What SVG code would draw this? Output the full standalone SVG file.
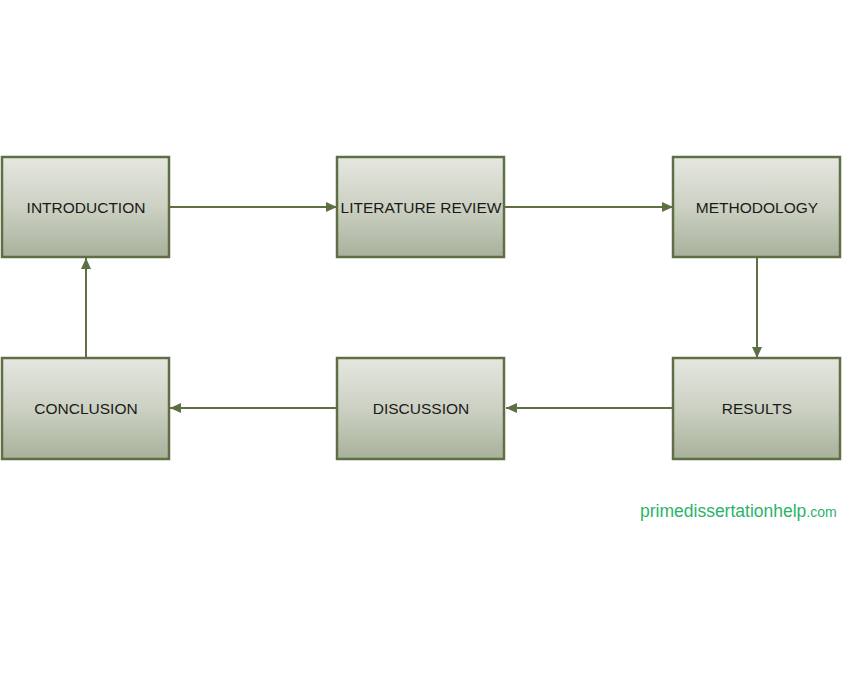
<svg xmlns="http://www.w3.org/2000/svg" width="845" height="684" viewBox="0 0 845 684">
<style>
.box{fill:url(#g);stroke:#5f6f45;stroke-width:2.5}
.lbl{font-family:"Liberation Sans",Arial,sans-serif;font-size:15.5px;fill:#1a1a1a;text-anchor:middle;dominant-baseline:central}
.con{stroke:#5f6f45;stroke-width:2;fill:none;marker-end:url(#ah)}
.wm{font-family:"Liberation Sans",Arial,sans-serif;fill:#2bb36a}
</style>
<defs>
<linearGradient id="g" x1="0" y1="0" x2="0" y2="1">
<stop offset="0" stop-color="#e5e7e1"/>
<stop offset="0.5" stop-color="#ccd1c3"/>
<stop offset="1" stop-color="#a8b19b"/>
</linearGradient>
<marker id="ah" markerWidth="12" markerHeight="10" refX="11" refY="5" orient="auto" markerUnits="userSpaceOnUse">
<path d="M0,0 L11,5 L0,10 Z" fill="#5f6f45"/>
</marker>
</defs>
<rect width="845" height="684" fill="#ffffff"/>
<g id="connectors">
<line class="con" x1="170" y1="207" x2="337" y2="207"/>
<line class="con" x1="505" y1="207" x2="673" y2="207"/>
<line class="con" x1="757" y1="258" x2="757" y2="358"/>
<line class="con" x1="672" y1="408" x2="506" y2="408"/>
<line class="con" x1="336" y1="408" x2="170" y2="408"/>
<line class="con" x1="86" y1="358" x2="86" y2="258"/>
</g>
<g id="introduction"><rect class="box" x="2" y="157" width="167" height="100"/><text class="lbl" x="86" y="207">INTRODUCTION</text></g>
<g id="literature-review"><rect class="box" x="337" y="157" width="167" height="100"/><text class="lbl" x="421" y="207">LITERATURE REVIEW</text></g>
<g id="methodology"><rect class="box" x="673" y="157" width="167" height="100"/><text class="lbl" x="757" y="207">METHODOLOGY</text></g>
<g id="conclusion"><rect class="box" x="2" y="358" width="167" height="101"/><text class="lbl" x="86" y="408">CONCLUSION</text></g>
<g id="discussion"><rect class="box" x="337" y="358" width="167" height="101"/><text class="lbl" x="421" y="408">DISCUSSION</text></g>
<g id="results"><rect class="box" x="673" y="358" width="167" height="101"/><text class="lbl" x="757" y="408">RESULTS</text></g>
<text class="wm" x="640" y="517" font-size="17.5">primedissertationhelp<tspan font-size="14">.com</tspan></text>
</svg>
